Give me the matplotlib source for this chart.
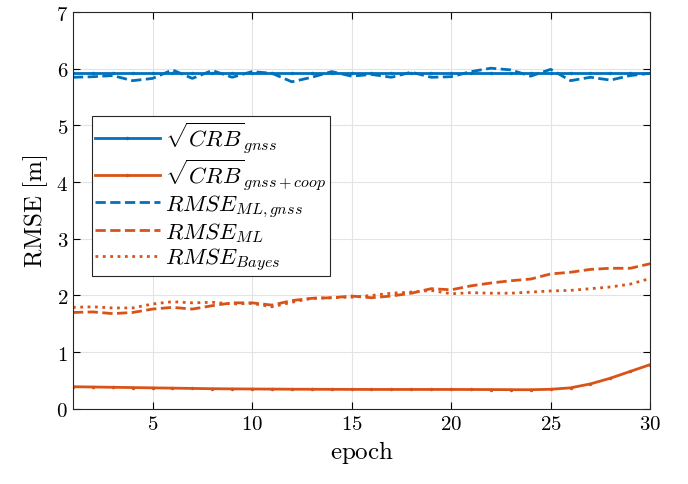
import matplotlib
matplotlib.use("Agg")
import matplotlib.pyplot as plt
import numpy as np

plt.rcParams['mathtext.fontset'] = 'cm'
plt.rcParams['font.family'] = 'serif'
plt.rcParams['font.serif'] = ['DejaVu Serif']

# data
epochs = np.arange(1, 31)
crb_gnss = [5.93] * 30
crb_coop = [0.39, 0.385, 0.38, 0.375, 0.37, 0.365, 0.36, 0.355, 0.352, 0.35,
            0.348, 0.346, 0.345, 0.344, 0.343, 0.342, 0.342, 0.342, 0.342, 0.342,
            0.341, 0.34, 0.338, 0.337, 0.345, 0.37, 0.44, 0.54, 0.66, 0.78]
rmse_ml_gnss = [5.85, 5.86, 5.88, 5.79, 5.83, 5.98, 5.83, 5.97, 5.85, 5.95,
                5.92, 5.77, 5.85, 5.95, 5.87, 5.90, 5.85, 5.94, 5.85, 5.86,
                5.95, 6.01, 5.98, 5.87, 5.99, 5.79, 5.85, 5.80, 5.88, 5.92]
rmse_ml = [1.70, 1.71, 1.68, 1.70, 1.76, 1.79, 1.76, 1.82, 1.87, 1.87,
           1.83, 1.91, 1.95, 1.96, 1.99, 1.96, 1.99, 2.04, 2.12, 2.10,
           2.17, 2.22, 2.26, 2.29, 2.38, 2.41, 2.46, 2.48, 2.48, 2.56]
rmse_bayes = [1.79, 1.80, 1.78, 1.78, 1.85, 1.89, 1.87, 1.88, 1.85, 1.86,
              1.80, 1.88, 1.95, 1.96, 1.97, 2.00, 2.04, 2.06, 2.09, 2.03,
              2.05, 2.04, 2.04, 2.06, 2.08, 2.09, 2.12, 2.15, 2.20, 2.30]

blue = '#0072BD'
orange = '#D95319'

fig = plt.figure(figsize=(6.88, 4.85), dpi=100)
ax = fig.add_axes([0.106, 0.155, 0.839, 0.818])

ax.plot(epochs, crb_gnss, '-', color=blue, lw=2, marker='.', ms=3,
        label=r'$\sqrt{CRB}_{gnss}$')
ax.plot(epochs, crb_coop, '-', color=orange, lw=2, marker='.', ms=3,
        label=r'$\sqrt{CRB}_{gnss+coop}$')
ax.plot(epochs, rmse_ml_gnss, '--', color=blue, lw=2, label=r'$RMSE_{ML,gnss}$')
ax.plot(epochs, rmse_ml, '--', color=orange, lw=2, label=r'$RMSE_{ML}$')
ax.plot(epochs, rmse_bayes, ':', color=orange, lw=2, label=r'$RMSE_{Bayes}$')

ax.set_xlim(1, 30)
ax.set_ylim(0, 7)
ax.set_xticks([5, 10, 15, 20, 25, 30])
ax.set_yticks(range(0, 8))
ax.set_xticklabels([r'$%d$' % v for v in [5, 10, 15, 20, 25, 30]])
ax.set_yticklabels([r'$%d$' % v for v in range(0, 8)])
ax.tick_params(direction='in', top=True, right=True, labelsize=15, length=5)
ax.grid(True, color='#e3e3e3', lw=0.8)
ax.set_axisbelow(True)
for s in ax.spines.values():
    s.set_color('#262626')

ax.set_xlabel(r'$\mathrm{epoch}$', fontsize=18)
ax.set_ylabel(r'$\mathrm{RMSE\ [m]}$', fontsize=18)

leg = ax.legend(loc='upper left', bbox_to_anchor=(0.033, 0.738), fontsize=16.5,
                fancybox=False, edgecolor='#262626', framealpha=1,
                handlelength=2.8, borderpad=0.15, labelspacing=0.05,
                handletextpad=0.25, borderaxespad=0)
leg.get_frame().set_linewidth(0.8)

fig.savefig('out.png', dpi=100)
